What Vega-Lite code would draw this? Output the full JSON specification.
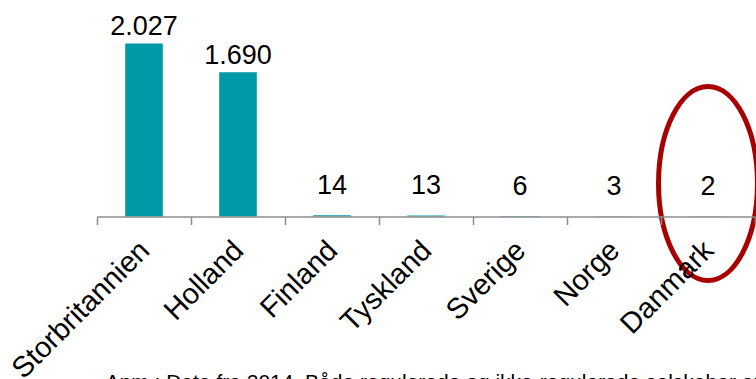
{
  "$schema": "https://vega.github.io/schema/vega-lite/v6.json",
  "autosize": "none",
  "width": 658,
  "height": 213.5,
  "padding": {"left": 97, "top": 3, "right": 1, "bottom": 162.5},
  "background": "white",
  "config": {
    "view": {"stroke": null},
    "font": "Liberation Sans",
    "locale": {"number": {"decimal": ",", "thousands": ".", "grouping": [3], "currency": ["", " kr."]}}
  },
  "datasets": {
    "lande": [
      {"land": "Storbritannien", "antal": 2027},
      {"land": "Holland", "antal": 1690},
      {"land": "Finland", "antal": 14},
      {"land": "Tyskland", "antal": 13},
      {"land": "Sverige", "antal": 6},
      {"land": "Norge", "antal": 3},
      {"land": "Danmark", "antal": 2}
    ],
    "markering": [
      {"land": "Danmark", "midte": 386}
    ]
  },
  "encoding": {
    "x": {
      "field": "land",
      "type": "nominal",
      "sort": null,
      "scale": {"paddingInner": 0, "paddingOuter": 0},
      "axis": {
        "title": "Anm.: Data fra 2014. Både regulerede og ikke-regulerede selskaber er medtaget.",
        "titleFontSize": 21,
        "titleFontWeight": "normal",
        "titleColor": "#000000",
        "titleAnchor": "start",
        "titleAlign": "left",
        "titleBaseline": "alphabetic",
        "titleX": 8,
        "titleY": 171.8,
        "titleFont": "Liberation Sans",
        "titleLimit": 1000,
        "labelAngle": -45,
        "labelAlign": "right",
        "labelBaseline": "top",
        "labelPadding": 11,
        "labelOffset": -9.5,
        "labelFontSize": 29,
        "labelColor": "#000000",
        "labelFont": "Liberation Sans",
        "labelLimit": 400,
        "labelOverlap": false,
        "labelBound": false,
        "labelFlush": false,
        "tickBand": "extent",
        "tickSize": 8,
        "tickColor": "#8c8c8c",
        "tickWidth": 1.5,
        "domainColor": "#8c8c8c",
        "domainWidth": 1.5,
        "grid": false,
        "zindex": 1
      }
    }
  },
  "layer": [
    {
      "data": {"name": "lande"},
      "mark": {"type": "bar", "color": "#0099A8", "width": {"band": 0.4}},
      "encoding": {
        "y": {"field": "antal", "type": "quantitative", "scale": {"domain": [0, 2500], "nice": false, "zero": true}, "axis": null}
      }
    },
    {
      "data": {"name": "lande"},
      "transform": [{"filter": "datum.antal >= 100"}],
      "mark": {"type": "text", "fontSize": 27, "font": "Liberation Sans", "color": "#000000", "baseline": "alphabetic", "dy": -8},
      "encoding": {
        "y": {"field": "antal", "type": "quantitative"},
        "text": {"field": "antal", "type": "quantitative", "format": ",d"}
      }
    },
    {
      "data": {"name": "lande"},
      "transform": [{"filter": "datum.antal < 100"}],
      "mark": {"type": "text", "fontSize": 27, "font": "Liberation Sans", "color": "#000000", "baseline": "alphabetic", "dy": -21},
      "encoding": {
        "y": {"field": "antal", "type": "quantitative"},
        "text": {"field": "antal", "type": "quantitative", "format": ",d"}
      }
    },
    {
      "data": {"name": "markering"},
      "mark": {
        "type": "point",
        "shape": "M -0.51 0 A 0.51 1 0 1 1 0.51 0 A 0.51 1 0 1 1 -0.51 0 Z",
        "size": 37636,
        "filled": false,
        "color": "#A80000",
        "stroke": "#A80000",
        "strokeWidth": 5,
        "opacity": 1,
        "strokeOpacity": 1
      },
      "encoding": {
        "y": {"field": "midte", "type": "quantitative"}
      }
    }
  ]
}
